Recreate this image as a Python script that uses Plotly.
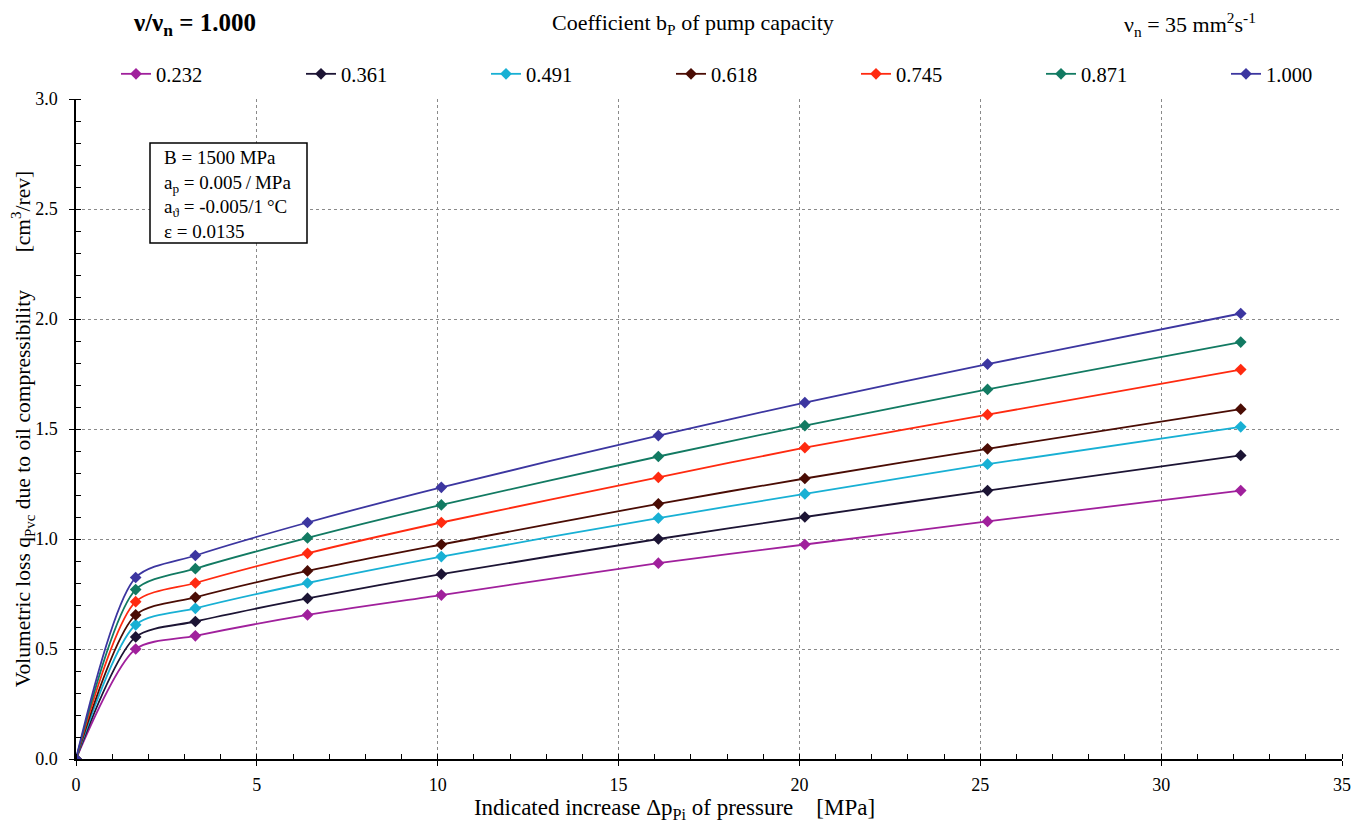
import plotly.graph_objects as go

series_names = ["0.232", "0.361", "0.491", "0.618", "0.745", "0.871", "1.000"]
x_vals = [0, 1.65, 3.3, 6.4, 10.1, 16.1, 20.15, 25.2, 32.2]
y_0232 = [0, 0.50, 0.56, 0.655, 0.745, 0.89, 0.975, 1.08, 1.22]
y_0361 = [0, 0.555, 0.625, 0.73, 0.84, 1.0, 1.10, 1.22, 1.38]
y_0491 = [0, 0.61, 0.685, 0.80, 0.92, 1.095, 1.205, 1.34, 1.51]
y_0618 = [0, 0.655, 0.735, 0.855, 0.975, 1.16, 1.275, 1.41, 1.59]
y_0745 = [0, 0.715, 0.80, 0.935, 1.075, 1.28, 1.415, 1.565, 1.77]
y_0871 = [0, 0.77, 0.865, 1.005, 1.155, 1.375, 1.515, 1.68, 1.895]
y_1000 = [0, 0.825, 0.925, 1.075, 1.235, 1.47, 1.62, 1.795, 2.025]
series_values = [y_0232, y_0361, y_0491, y_0618, y_0745, y_0871, y_1000]
colors = ["#a0209c", "#1c1434", "#18b0d4", "#4a0c04", "#ff2a10", "#127a62", "#3c36a0"]

FONT = "Liberation Serif"
NB = "\u00a0"
TS = "\u2009"
ZW = "\u200b"

# page offset: browser body margin of 8 px
PW, PH = 1355, 817
L, T = 68, 91
PLOT_W, PLOT_H = 1266, 660


def px(xp):  # page x (reference pixels) -> paper x
    return (xp - 76) / PLOT_W


def py(yp):  # page y (reference pixels) -> paper y
    return (759 - yp) / PLOT_H


fig = go.Figure()
for i, (name, ys, c) in enumerate(zip(series_names, series_values, colors)):
    fig.add_trace(go.Scatter(
        x=x_vals, y=ys, name=name, mode="lines+markers",
        line=dict(color=c, width=1.8, shape="spline", smoothing=0.75),
        marker=dict(symbol="diamond", size=9, color=c),
        legend="legend" if i < 4 else "legend2",
    ))

legend_common = dict(orientation="h", y=py(74), yanchor="middle", xanchor="left",
                     entrywidth=140, entrywidthmode="pixels",
                     font=dict(family=FONT, size=20.5), bgcolor="rgba(0,0,0,0)",
                     itemwidth=30, tracegroupgap=0)

fig.update_layout(
    width=PW, height=PH,
    margin=dict(l=L, r=PW - L - PLOT_W, t=T, b=PH - T - PLOT_H, autoexpand=False),
    paper_bgcolor="white", plot_bgcolor="white",
    font=dict(family=FONT, size=18, color="black"),
    showlegend=True,
    legend=dict(x=px(116), **legend_common),
    legend2=dict(x=px(116 + 4 * 185), **legend_common),
)

fig.update_xaxes(
    range=[0, 35], tickvals=[0, 5, 10, 15, 20, 25, 30, 35],
    showline=True, linecolor="black", linewidth=1.5,
    ticks="outside", ticklen=5, tickcolor="black", ticklabelstandoff=4,
    showgrid=True, gridcolor="#8a8a8a", griddash="dot", gridwidth=1,
    minor=dict(dtick=1, ticks="inside", ticklen=5, tickcolor="black", showgrid=False),
    zeroline=False, automargin=False,
    tickfont=dict(family=FONT, size=18),
    title=dict(text="Indicated increase Δp<sub>Pi</sub> of pressure" + NB * 4 + "[MPa]" + NB * 12 + ZW,
               font=dict(family=FONT, size=23), standoff=0),
)
fig.update_yaxes(
    range=[0, 3.0], tickvals=[0, 0.5, 1.0, 1.5, 2.0, 2.5, 3.0], tickformat=".1f",
    showline=True, linecolor="black", linewidth=1.5,
    ticks="outside", ticklen=5, tickcolor="black", ticklabelstandoff=8,
    showgrid=True, gridcolor="#8a8a8a", griddash="dot", gridwidth=1,
    minor=dict(dtick=0.1, ticks="inside", ticklen=5, tickcolor="black", showgrid=False),
    zeroline=False, automargin=False,
    tickfont=dict(family=FONT, size=18),
    title=dict(text="Volumetric loss q<sub>Pvc</sub> due to oil compressibility" + NB * 7 + "[cm<sup>3</sup>/rev]",
               font=dict(family=FONT, size=21.5), standoff=4),
)

fig.add_annotation(xref="paper", yref="paper", x=px(194), y=py(24),
                   text="<b>ν/ν<sub>n</sub> = 1.000</b>", showarrow=False,
                   font=dict(family=FONT, size=25), xanchor="center", yanchor="middle")
fig.add_annotation(xref="paper", yref="paper", x=px(693), y=py(24),
                   text="Coefficient b<sub>P</sub> of pump capacity", showarrow=False,
                   font=dict(family=FONT, size=22), xanchor="center", yanchor="middle")
fig.add_annotation(xref="paper", yref="paper", x=px(1190), y=py(24),
                   text="ν<sub>n</sub> = 35 mm<sup>2</sup>s<sup>-1</sup>", showarrow=False,
                   font=dict(family=FONT, size=22), xanchor="center", yanchor="middle")

fig.add_shape(type="rect", xref="paper", yref="paper",
              x0=px(150), x1=px(307), y0=py(243), y1=py(143),
              line=dict(color="black", width=1.5), fillcolor="white", layer="above")
fig.add_annotation(xref="paper", yref="paper", x=px(163), y=py(146),
                   text="B = 1500 MPa<br>a<sub>p</sub> = 0.005" + TS + "/" + TS + "MPa<br>a<sub>ϑ</sub> = -0.005/1" + TS + "°C<br>ε = 0.0135",
                   showarrow=False, align="left", xanchor="left", yanchor="top",
                   font=dict(family=FONT, size=19), borderpad=0)

fig.write_html("out.html")
